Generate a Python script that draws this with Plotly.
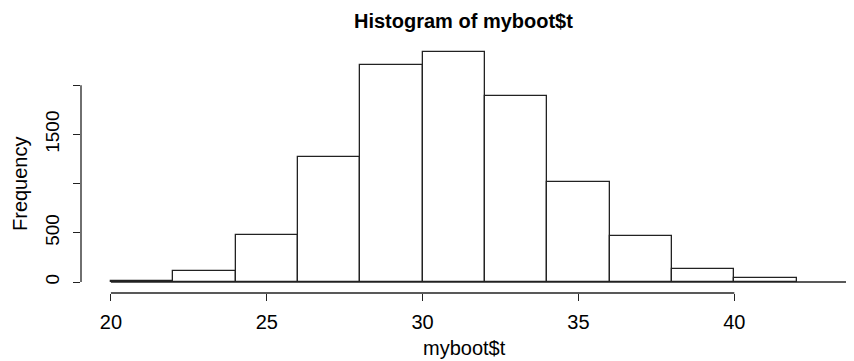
import plotly.graph_objects as go

# Data
bin_edges = [20, 22, 24, 26, 28, 30, 32, 34, 36, 38, 40, 42]
counts = [12, 112, 478, 1276, 2207, 2342, 1887, 1018, 465, 136, 38]
x_ticks = [20, 25, 30, 35, 40]
x_ticklabels = ["20", "25", "30", "35", "40"]
y_ticks = [0, 500, 1000, 1500, 2000]
y_ticklabels = ["0", "500", "", "1500", ""]
title_text = "Histogram of myboot$t"
x_title = "myboot$t"
y_title = "Frequency"

centers = [(a + b) / 2 for a, b in zip(bin_edges[:-1], bin_edges[1:])]
widths = [b - a for a, b in zip(bin_edges[:-1], bin_edges[1:])]

FONT = "Liberation Sans, Arial, Helvetica, sans-serif"
INK = "#222222"
X_RANGE = [19.04, 43.84]
Y_RANGE = [-111.8, 2460.6]

# page has an 8px body margin: figure is offset by (8, 8)
OFF = 8
W, H = 854 - OFF, 361 - OFF
ML, MR, MT, MB = 81 - OFF, 0, 40 - OFF, 68
PW, PH = W - ML - MR, H - MT - MB


def px_to_paper(px, py):
    """Convert a page pixel position to paper coordinates."""
    return (px - OFF - ML) / PW, (H - MB - (py - OFF)) / PH


fig = go.Figure()
fig.add_trace(go.Bar(
    x=centers, y=counts, width=widths,
    marker=dict(color="white", line=dict(color=INK, width=1.3)),
    showlegend=False, hoverinfo="skip",
))

shapes = [
    dict(type="line", xref="x", yref="paper", x0=min(x_ticks), x1=max(x_ticks), y0=0, y1=0,
         line=dict(color=INK, width=1.3)),
    dict(type="line", xref="paper", yref="y", x0=0, x1=0, y0=min(y_ticks), y1=max(y_ticks),
         line=dict(color=INK, width=1.3)),
    dict(type="line", xref="x", yref="y", x0=bin_edges[0], x1=X_RANGE[1], y0=0, y1=0,
         line=dict(color=INK, width=1.3)),
]

tx, ty = px_to_paper(463, 21)
xx, xy = px_to_paper(464, 348)
yx, yy = px_to_paper(20, 184)

fig.update_layout(
    width=W, height=H,
    margin=dict(l=ML, r=MR, t=MT, b=MB),
    paper_bgcolor="white", plot_bgcolor="white",
    font=dict(family=FONT, color="black", size=20),
    bargap=0,
    shapes=shapes,
    xaxis=dict(
        range=X_RANGE, showgrid=False, zeroline=False, showline=False, automargin=False,
        tickmode="array", tickvals=x_ticks, ticktext=x_ticklabels,
        ticks="outside", ticklen=7, tickwidth=1.3, tickcolor=INK,
        tickfont=dict(size=20), ticklabelstandoff=4,
    ),
    yaxis=dict(
        range=Y_RANGE, showgrid=False, zeroline=False, showline=False, automargin=False,
        tickmode="array", tickvals=y_ticks, ticktext=y_ticklabels,
        ticks="outside", ticklen=7, tickwidth=1.3, tickcolor=INK,
        tickangle=-90, tickfont=dict(size=19), ticklabelstandoff=6,
    ),
    annotations=[
        dict(text="<b>" + title_text + "</b>", xref="paper", yref="paper",
             x=tx, y=ty, xanchor="center", yanchor="middle", borderpad=0,
             showarrow=False, font=dict(size=20, family=FONT)),
        dict(text=x_title, xref="paper", yref="paper",
             x=xx, y=xy, xanchor="center", yanchor="middle", borderpad=0,
             showarrow=False, font=dict(size=20, family=FONT)),
        dict(text=y_title, xref="paper", yref="paper", textangle=-90,
             x=yx, y=yy, xanchor="center", yanchor="middle", borderpad=0,
             showarrow=False, font=dict(size=20, family=FONT)),
    ],
)

fig.write_html("out.html")
